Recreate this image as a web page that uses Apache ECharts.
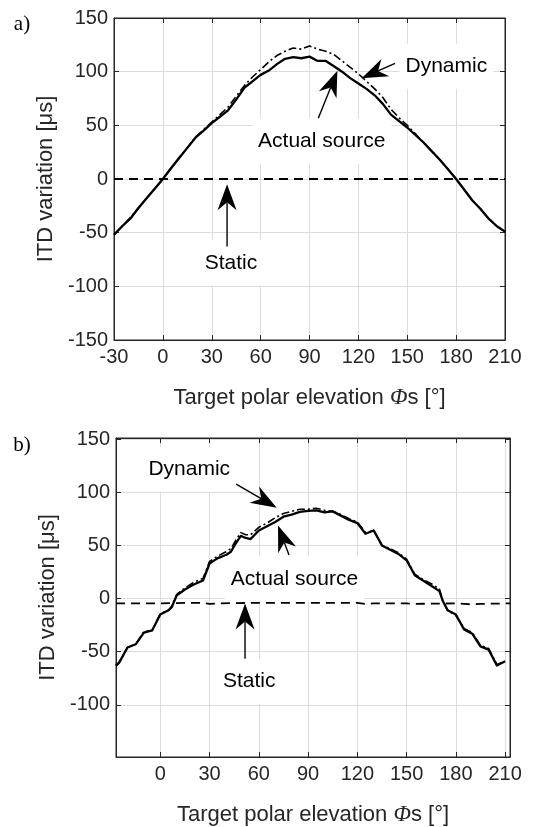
<!DOCTYPE html>
<html><head><meta charset="utf-8">
<script src="https://cdn.jsdelivr.net/npm/echarts@6/dist/echarts.min.js"></script>
<style>html,body{margin:0;padding:0;background:#fff}#c{width:534px;height:827px}</style>
</head><body><div id="c"></div>
<script>
// ---------- data ----------
const xTicksA = [-30, 0, 30, 60, 90, 120, 150, 180, 210];
const yTicksA = [-150, -100, -50, 0, 50, 100, 150];
const xTicksB = [0, 30, 60, 90, 120, 150, 180, 210];
const yTicksB = [-100, -50, 0, 50, 100, 150];

const elevA = [-30,-25,-20,-15,-10,-5,0,5,10,15,20,25,30,35,40,45,50,55,60,65,70,75,80,85,90,95,100,105,110,115,120,125,130,135,140,145,150,155,160,165,170,175,180,185,190,195,200,205,210];
const actualA = [-52,-44,-37,-27,-18,-9,0,10,19.6,29,38.5,45,52,58,64,74,85,91,97,101,107,112,113.5,112.5,114,110,110,105,100,94,89,84,78,70,60,54,48,41,34,26,18,9,0,-10,-20,-28,-37,-44,-49];
const dynamicA = [-52,-44,-36,-27,-18,-9,0,10,20,29,39,46,53,60,67,77,87,95,102,109,115,119,122,121,124,121,119,116,110,104,98,91,84,76,65,57,50,42,34,26,18,9,0,-10,-20,-28,-37,-44,-49];
const staticElevA = [-30, 210];
const staticA = [0, 0];

const elevB = [-27,-25,-20,-15,-10,-5,0,5,7,10,15,20,26,30,35,40,43,46,49,52,55,60,65,70,75,80,85,90,95,100,105,110,115,120,125,130,135,140,145,150,155,160,165,170,172,175,180,185,190,195,200,205,210];
const actualB = [-63,-60,-46,-43,-32,-30,-15,-11,-8,3,8.5,13,17,33,38,41,44,52,59,57,56,64,68,72,77,79,81.5,82.5,83,81,82,78,74,71,61,64,50,46,42,36,22,17,12,7,-2,-11,-15,-29,-33,-45,-48,-63,-59];
const dynamicB = [-63,-60,-46,-43,-31,-30,-14,-11,-7,4,10,15,19,35,40,44,47,55,62,60,60,67,71,76,80,82,84,84,85,83,82,79,75,72,62,64,50,47,43,37,23,18,14,9,-2,-11,-16,-28,-32,-44,-47,-62,-59];
const staticElevB = [-27,0,20,26,30,35,60,90,120,125,130,150,155,180,185,190,195,213];
const staticB = [-4.5,-4.5,-4,-4,-5,-4.5,-4,-4,-4,-5,-4.5,-4.5,-5,-4.5,-5,-5.5,-5,-4.5];

// ---------- chart ----------
const INK = '#262626';
const FONT = 'Liberation Sans, Arial, sans-serif';
const pairs = (xs, ys) => xs.map((x, i) => [x, ys[i]]);

function axisPair(gi, xMin, xMax, xTicks, yMin, yMax, yTicks) {
  const tick = { show: true, inside: true, length: 5, lineStyle: { color: INK, width: 1 } };
  const split = { show: true, lineStyle: { color: '#dcdcdc', width: 1 } };
  const line = { show: true, onZero: false, lineStyle: { color: INK, width: 1 } };
  const xs = [
    { type: 'value', gridIndex: gi, min: xMin, max: xMax, position: 'bottom',
      axisLine: line, axisTick: Object.assign({}, tick, { customValues: xTicks }),
      axisLabel: { show: true, customValues: xTicks, fontSize: 20, color: INK, fontFamily: FONT, margin: 7 },
      splitLine: split,
      name: 'Target polar elevation {i|Φ}s [°]', nameLocation: 'middle', nameGap: 46,
      nameTextStyle: { fontSize: 22, color: INK, fontFamily: FONT,
        rich: { i: { fontSize: 23, fontStyle: 'italic', fontFamily: 'Liberation Serif, DejaVu Serif, serif', color: INK } } } },
    { type: 'value', gridIndex: gi, min: xMin, max: xMax, position: 'top',
      axisLine: line, axisTick: Object.assign({}, tick, { customValues: xTicks }),
      axisLabel: { show: false }, splitLine: { show: false } }
  ];
  const ys = [
    { type: 'value', gridIndex: gi, min: yMin, max: yMax, position: 'left',
      axisLine: line, axisTick: Object.assign({}, tick, { customValues: yTicks }),
      axisLabel: { show: true, customValues: yTicks, fontSize: 20, color: INK, fontFamily: FONT, margin: 6 },
      splitLine: split,
      name: 'ITD variation [μs]', nameLocation: 'middle', nameGap: 48,
      nameTextStyle: { fontSize: 22, color: INK, fontFamily: FONT } },
    { type: 'value', gridIndex: gi, min: yMin, max: yMax, position: 'right',
      axisLine: line, axisTick: Object.assign({}, tick, { customValues: yTicks }),
      axisLabel: { show: false }, splitLine: { show: false } }
  ];
  return { xs, ys };
}

const A = axisPair(0, -30, 210, xTicksA, -150, 150, yTicksA);
const B = axisPair(1, -27, 213, xTicksB, -149, 151, yTicksB);

function ser(xi, yi, data, type, width) {
  const ls = { color: '#000', width: width, type: type, cap: 'butt', join: 'round' };
  return { type: 'line', xAxisIndex: xi, yAxisIndex: yi, data: data, showSymbol: false,
    symbol: 'none', lineStyle: ls, itemStyle: { color: '#000' }, silent: true, animation: false, z: 3 };
}

const chart = echarts.init(document.getElementById('c'), null, { renderer: 'canvas' });
chart.setOption({
  animation: false,
  backgroundColor: '#fff',
  textStyle: { fontFamily: FONT },
  grid: [
    { left: 114, top: 18, width: 391, height: 322, show: true, borderColor: INK, borderWidth: 1, backgroundColor: 'transparent' },
    { left: 116, top: 438, width: 394, height: 323, show: true, borderColor: INK, borderWidth: 1, backgroundColor: 'transparent' }
  ],
  xAxis: A.xs.concat(B.xs),
  yAxis: A.ys.concat(B.ys),
  series: [
    ser(0, 0, pairs(staticElevA, staticA), [9, 6], 1.8),
    ser(0, 0, pairs(elevA, dynamicA), [8, 3, 2, 3], 1.6),
    ser(0, 0, pairs(elevA, actualA), 'solid', 2.3),
    ser(2, 2, pairs(staticElevB, staticB), [9, 6], 1.8),
    ser(2, 2, pairs(elevB, dynamicB), [8, 3, 2, 3], 1.6),
    ser(2, 2, pairs(elevB, actualB), 'solid', 2.3)
  ]
});

// ---------- annotations (data coordinates) ----------
const notes = [
  { g: 0, text: 'Dynamic', at: [174, 105], tail: [142.5, 107.8], tip: [122, 93.8] },
  { g: 0, text: 'Actual source', at: [97.5, 35.4], tail: [95.4, 56.6], tip: [107.1, 100.9] },
  { g: 0, text: 'Static', at: [41.8, -78], tail: [39.4, -63], tip: [39.4, -4.8] },
  { g: 1, text: 'Dynamic', at: [17.6, 121.6], tail: [46.2, 107.7], tip: [70.9, 85.4] },
  { g: 1, text: 'Actual source', at: [81.7, 18.6], tail: [78.4, 40.9], tip: [71.7, 68.7] },
  { g: 1, text: 'Static', at: [54.1, -78], tail: [51.6, -56.6], tip: [51.6, -4.6] }
];
const graphics = [];
notes.forEach(n => {
  const px = v => chart.convertToPixel({ xAxisIndex: n.g * 2, yAxisIndex: n.g * 2 }, v);
  const c = px(n.at), p0 = px(n.tail), p1 = px(n.tip);
  graphics.push({ type: 'text', x: c[0], y: c[1], z: 50,
    style: { text: n.text, font: '21px ' + FONT, fill: '#000', align: 'center', verticalAlign: 'middle',
      backgroundColor: '#fff', padding: [12, 6] } });
  const dx = p1[0] - p0[0], dy = p1[1] - p0[1], len = Math.hypot(dx, dy);
  const ux = dx / len, uy = dy / len, nx = -uy, ny = ux;
  const L = 26, W = 19, N = 8;
  const bx = p1[0] - ux * L, by = p1[1] - uy * L;
  const mx = p1[0] - ux * (L - N), my = p1[1] - uy * (L - N);
  graphics.push({ type: 'line', z: 60, shape: { x1: p0[0], y1: p0[1], x2: mx, y2: my },
    style: { stroke: '#000', lineWidth: 1.4 } });
  graphics.push({ type: 'polygon', z: 61,
    shape: { points: [[p1[0], p1[1]], [bx + nx * W / 2, by + ny * W / 2], [mx, my], [bx - nx * W / 2, by - ny * W / 2]] },
    style: { fill: '#000' } });
});
graphics.push({ type: 'text', x: 22, y: 24, z: 50,
  style: { text: 'a)', font: '21px Liberation Serif, DejaVu Serif, serif', fill: '#000', align: 'center', verticalAlign: 'middle' } });
graphics.push({ type: 'text', x: 22, y: 445, z: 50,
  style: { text: 'b)', font: '21px Liberation Serif, DejaVu Serif, serif', fill: '#000', align: 'center', verticalAlign: 'middle' } });
chart.setOption({ graphic: graphics });
</script>
</body></html>
